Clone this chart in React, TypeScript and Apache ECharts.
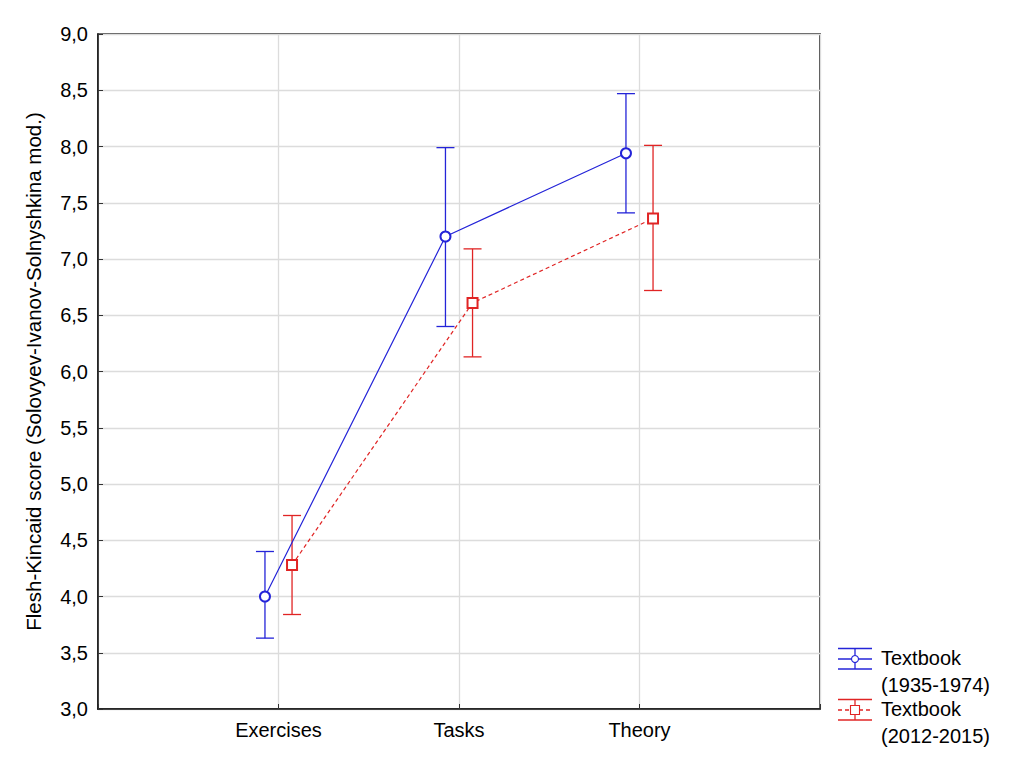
import React, { useEffect, useRef } from "react";
import * as echarts from "echarts";

const categories = ["Exercises", "Tasks", "Theory"];
const seriesNames = ["Textbook\n(1935-1974)", "Textbook\n(2012-2015)"];
const meanOld = [4.0, 7.2, 7.94];
const lowOld = [3.63, 6.4, 7.41];
const highOld = [4.4, 7.99, 8.47];
const meanNew = [4.28, 6.61, 7.36];
const lowNew = [3.84, 6.13, 6.72];
const highNew = [4.72, 7.09, 8.01];
const yAxisName = "Flesh-Kincaid score (Solovyev-Ivanov-Solnyshkina mod.)";

const BLUE = "#2424d8";
const RED = "#e02424";
const OFFSET = 0.075;
const FONT = "Arial, 'Liberation Sans', sans-serif";

function errorSeries(low: number[], high: number[], off: number, color: string) {
  const data = low.map((l, i) => [i + 1 + off, l, high[i]]);
  return {
    type: "custom",
    z: 2,
    data,
    encode: { x: 0, y: [1, 2] },
    renderItem: (params: any, api: any) => {
      const x = api.value(0);
      const pLow = api.coord([x, api.value(1)]);
      const pHigh = api.coord([x, api.value(2)]);
      const w = 9;
      const style = { stroke: color, lineWidth: 1.3, fill: "none" };
      return {
        type: "group",
        children: [
          { type: "line", shape: { x1: pLow[0], y1: pLow[1], x2: pHigh[0], y2: pHigh[1] }, style },
          { type: "line", shape: { x1: pLow[0] - w, y1: pLow[1], x2: pLow[0] + w, y2: pLow[1] }, style },
          { type: "line", shape: { x1: pHigh[0] - w, y1: pHigh[1], x2: pHigh[0] + w, y2: pHigh[1] }, style },
        ],
      };
    },
  };
}

function legendItem(y: number, color: string, dashed: boolean, square: boolean, label: string) {
  const x0 = 838;
  const x1 = 872;
  const cx = 855;
  const st = { stroke: color, lineWidth: 1.3, fill: "none" };
  const children: any[] = [
    { type: "line", shape: { x1: x0, y1: y - 10.5, x2: x1, y2: y - 10.5 }, style: st },
    { type: "line", shape: { x1: x0, y1: y + 10, x2: x1, y2: y + 10 }, style: st },
    { type: "line", shape: { x1: cx, y1: y - 10.5, x2: cx, y2: y + 10 }, style: st },
    {
      type: "line",
      shape: { x1: x0, y1: y, x2: x1, y2: y },
      style: { ...st, lineDash: dashed ? [4, 3] : null },
    },
    square
      ? { type: "rect", shape: { x: cx - 4.5, y: y - 4.5, width: 9, height: 9 }, style: { stroke: color, lineWidth: 1.1, fill: "#fff" } }
      : { type: "circle", shape: { cx, cy: y, r: 3.5 }, style: { stroke: color, lineWidth: 1.1, fill: "#fff" } },
    {
      type: "text",
      x: 881,
      y: y - 14.5,
      style: { text: label, fill: "#000", font: `20px ${FONT}`, lineHeight: 27, textVerticalAlign: "top" },
    },
  ];
  return { type: "group", children };
}

export default function App() {
  const ref = useRef<HTMLDivElement>(null);
  useEffect(() => {
    if (!ref.current) return;
    const chart = echarts.init(ref.current, undefined, { renderer: "svg" });
    const mk = (arr: number[], off: number) => arr.map((v, i) => [i + 1 + off, v]);
    chart.setOption({
      animation: false,
      backgroundColor: "#fff",
      grid: {
        left: 98,
        top: 34,
        right: 191,
        bottom: 62,
        show: true,
        borderColor: "#111",
        borderWidth: 1.5,
        backgroundColor: "transparent",
      },
      xAxis: {
        type: "value",
        min: 0,
        max: 4,
        interval: 1,
        axisLine: { show: true, lineStyle: { color: "#111", width: 1.5 } },
        axisTick: { show: true, inside: true, length: 5, lineStyle: { color: "#333" } },
        splitLine: { show: true, lineStyle: { color: "#dcdcdc", width: 1.3 } },
        axisLabel: {
          margin: 11,
          color: "#000",
          fontSize: 20,
          fontFamily: FONT,
          formatter: (v: number) => categories[v - 1] ?? "",
        },
      },
      yAxis: {
        type: "value",
        min: 3,
        max: 9,
        interval: 0.5,
        name: yAxisName,
        nameLocation: "middle",
        nameGap: 54,
        nameTextStyle: { color: "#000", fontSize: 20.5, fontFamily: FONT },
        axisLine: { show: true, lineStyle: { color: "#111", width: 1.5 } },
        axisTick: { show: true, inside: true, length: 5, lineStyle: { color: "#333" } },
        splitLine: { show: true, lineStyle: { color: "#dcdcdc", width: 1.3 } },
        axisLabel: {
          margin: 10,
          color: "#000",
          fontSize: 20,
          fontFamily: FONT,
          formatter: (v: number) => v.toFixed(1).replace(".", ","),
        },
      },
      series: [
        errorSeries(lowOld, highOld, -OFFSET, BLUE),
        errorSeries(lowNew, highNew, OFFSET, RED),
        {
          type: "line",
          name: seriesNames[0],
          z: 3,
          data: mk(meanOld, -OFFSET),
          symbol: "emptyCircle",
          symbolSize: 10,
          lineStyle: { color: BLUE, width: 1.2 },
          itemStyle: { color: BLUE, borderWidth: 1 },
        },
        {
          type: "line",
          name: seriesNames[1],
          z: 3,
          data: mk(meanNew, OFFSET),
          symbol: "emptyRect",
          symbolSize: 10,
          lineStyle: { color: RED, width: 1.2, type: [4, 3] },
          itemStyle: { color: RED, borderWidth: 1 },
        },
      ],
      graphic: [
        legendItem(659, BLUE, false, false, seriesNames[0]),
        legendItem(710, RED, true, true, seriesNames[1]),
      ],
    });
    return () => chart.dispose();
  }, []);
  return (
    <div
      ref={ref}
      style={{ position: "absolute", left: 0, top: 0, width: 1011, height: 771, background: "#fff" }}
    />
  );
}
